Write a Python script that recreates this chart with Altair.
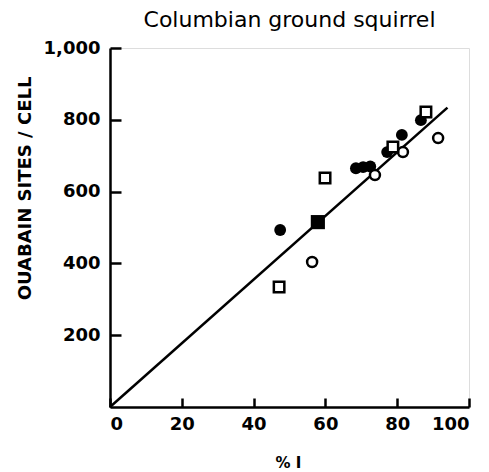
import altair as alt
import pandas as pd

# Data
fc_x = [47.4, 68.5, 70.5, 72.5, 77.2, 81.3, 86.6]
fc_y = [493, 665, 668, 670, 710, 758, 799]
fs_x = [57.9]
fs_y = [515]
oc_x = [56.3, 73.8, 81.6, 91.4]
oc_y = [404, 646, 710, 749]
os_x = [47.1, 59.9, 78.8, 88.0]
os_y = [334, 638, 724, 822]
line_x = [0, 94]
line_y = [0, 834]

x_labels = [0, 20, 40, 60, 80, 100]
y_labels = [200, 400, 600, 800, 1000]

FONT = "DejaVu Sans"

def df(xs, ys):
    return pd.DataFrame({"x": xs, "y": ys})

xscale = alt.Scale(domain=[0, 100], nice=False, zero=False)
yscale = alt.Scale(domain=[0, 1000], nice=False, zero=False)

# inward ticks via an expression-valued tick size, axes drawn on top
main_x = alt.X("x:Q", scale=xscale, axis=alt.Axis(
    orient="bottom", values=x_labels, ticks=True, tickSize={"expr": "-9"},
    tickWidth=2.5, tickColor="black", tickOpacity=1, tickCap="butt",
    grid=False, zindex=1,
    domainColor="black", domainWidth=2.5, labelFont=FONT, labelFontSize=18,
    labelFontWeight="bold", labelColor="black", labelPadding=17,
    title="% I", titleFont=FONT, titleFontSize=15, titleFontWeight="bold",
    titleColor="black", titleX=178, titleY=55, titleBaseline="middle",
    titleAnchor="start", titleAlign="center"))
main_y = alt.Y("y:Q", scale=yscale, axis=alt.Axis(
    orient="left", values=y_labels, ticks=True, tickSize={"expr": "-11"},
    tickWidth=2.5, tickColor="black", tickOpacity=1, tickCap="butt",
    grid=False, zindex=1,
    domainColor="black", domainWidth=2.5, labelFont=FONT, labelFontSize=18,
    labelFontWeight="bold", labelColor="black", labelPadding=21,
    labelFlush=False,
    format=",d",
    title="OUABAIN  SITES / CELL", titleFont=FONT, titleFontSize=18,
    titleFontWeight="bold", titleColor="black", titleX=-85, titleY=140,
    titleAngle=270, titleAlign="center", titleBaseline="middle",
    titleAnchor="start"))

line = alt.Chart(df(line_x, line_y)).mark_line(
    color="black", strokeWidth=2.5).encode(x=main_x, y=main_y)

filled_c = alt.Chart(df(fc_x, fc_y)).mark_point(
    shape="circle", filled=True, color="black", size=140, opacity=1
).encode(x=main_x, y=main_y)
filled_s = alt.Chart(df(fs_x, fs_y)).mark_point(
    shape="square", filled=True, color="black", size=200, opacity=1
).encode(x=main_x, y=main_y)
open_c = alt.Chart(df(oc_x, oc_y)).mark_point(
    shape="circle", filled=True, fill="white", stroke="black", strokeWidth=2.5,
    size=100, opacity=1
).encode(x=main_x, y=main_y)
open_s = alt.Chart(df(os_x, os_y)).mark_point(
    shape="square", filled=True, fill="white", stroke="black", strokeWidth=2.5,
    size=110, opacity=1
).encode(x=main_x, y=main_y)

chart = alt.layer(line, filled_c, filled_s, open_c, open_s).properties(
    width=359, height=359,
    padding={"left": 102, "top": 40, "right": 12, "bottom": 64},
    autosize="none",
    title=alt.TitleParams("Columbian ground squirrel", font=FONT, fontSize=22,
                          fontWeight="normal", color="black", anchor="middle",
                          offset=10, dy=20, baseline="alphabetic")
).configure_view(stroke=None).configure(background="white")

chart.save("out.html", embed_options={"renderer": "svg", "actions": False})
